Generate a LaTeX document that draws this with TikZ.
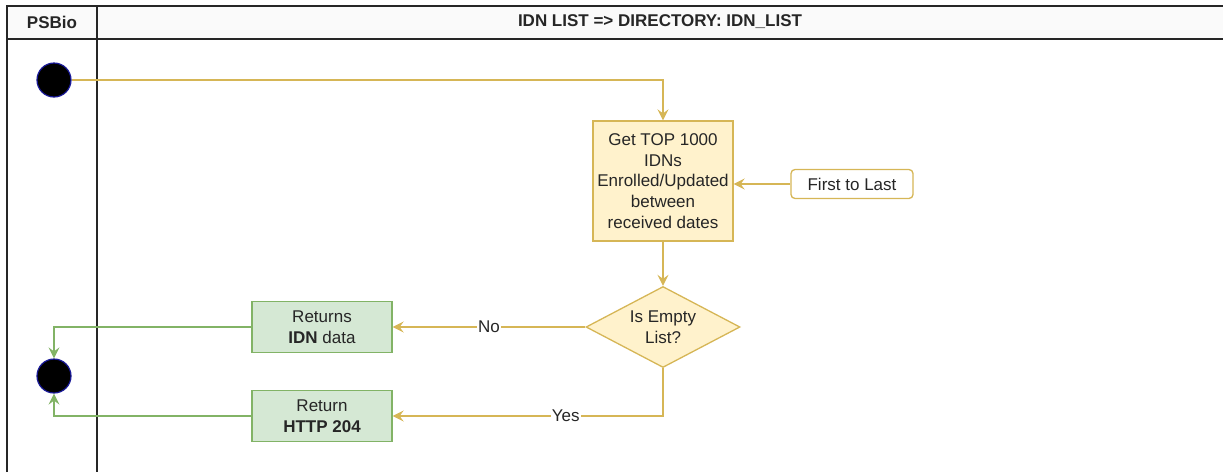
\documentclass[tikz,border=0pt]{standalone}
\usepackage{fontspec}
\setmainfont{Liberation Sans}
\usetikzlibrary{shapes.geometric,arrows.meta}
\definecolor{ybord}{HTML}{D6B656}
\definecolor{yfill}{HTML}{FFF2CC}
\definecolor{gbord}{HTML}{82B366}
\definecolor{gfill}{HTML}{D5E8D4}
\definecolor{cbord}{HTML}{1A1A99}
\tikzset{
  x=1pt, y=-1pt,
  txt/.style={font=\fontsize{17}{20.6}\selectfont, align=center, text=black!85},
  ybox/.style={txt, draw=ybord, fill=yfill, line width=1.3pt, minimum width=140pt, inner sep=0pt},
  gbox/.style={txt, draw=gbord, fill=gfill, line width=1.3pt, minimum width=140pt, minimum height=51pt, inner sep=0pt},
  wbox/.style={txt, draw=ybord, fill=white, rounded corners=4pt, line width=1.3pt, minimum width=122pt, minimum height=29pt, inner sep=0pt},
  dec/.style={txt, diamond, draw=ybord, fill=yfill, line width=1.3pt, minimum width=154pt, minimum height=81pt, inner sep=0pt, aspect=1.9},
  dot/.style={circle, fill=black, draw=cbord, line width=1.2pt, minimum size=34pt, inner sep=0pt},
  yarr/.style={draw=ybord, line width=1.5pt, -{Stealth[length=11pt,width=11pt,inset=4pt]}},
  garr/.style={draw=gbord, line width=1.5pt, -{Stealth[length=11pt,width=11pt,inset=4pt]}},
  lane/.style={draw=black!85, line width=2pt},
  lbl/.style={txt, fill=white, inner sep=1pt}
}
\begin{document}
\begin{tikzpicture}
\useasboundingbox (0,0) rectangle (1223,472);
\fill[black!2] (7,6) rectangle (1223,39);
\draw[lane] (7,472) -- (7,6) -- (1223,6);
\draw[lane] (7,39) -- (1223,39);
\draw[lane] (97,6) -- (97,472);
\node[txt, font=\fontsize{17}{20.6}\selectfont\bfseries] (h1) at (52,22) {PSBio};
\node[txt, font=\fontsize{17}{20.6}\selectfont\bfseries] (h2) at (660,22) {IDN LIST => DIRECTORY: IDN\_LIST};

\node[dot] (start) at (54,80) {};
\node[ybox, minimum height=120pt] (get) at (663,181) {Get TOP 1000\\IDNs\\Enrolled/Updated\\between\\received dates};
\node[wbox] (first) at (852,184) {First to Last};
\node[dec] (empty) at (663,327) {Is Empty\\List?};
\node[gbox] (ret1) at (322,327) {Returns\\\textbf{IDN} data};
\node[gbox] (ret2) at (322,416) {Return\\\textbf{HTTP 204}};
\node[dot] (end) at (54,376) {};

\draw[yarr] (start.east) -| (get.north);
\draw[yarr] (first.west) -- (first.west -| get.east);
\draw[yarr] (get.south) -- (empty.north);
\draw[yarr] (empty.west) -- node[lbl] {No} (ret1.east);
\draw[yarr] (empty.south) |- node[lbl, pos=0.68] {Yes} (ret2.east);
\draw[garr] (ret1.west) -| (end.north);
\draw[garr] (ret2.west) -| (end.south);
\end{tikzpicture}
\end{document}
